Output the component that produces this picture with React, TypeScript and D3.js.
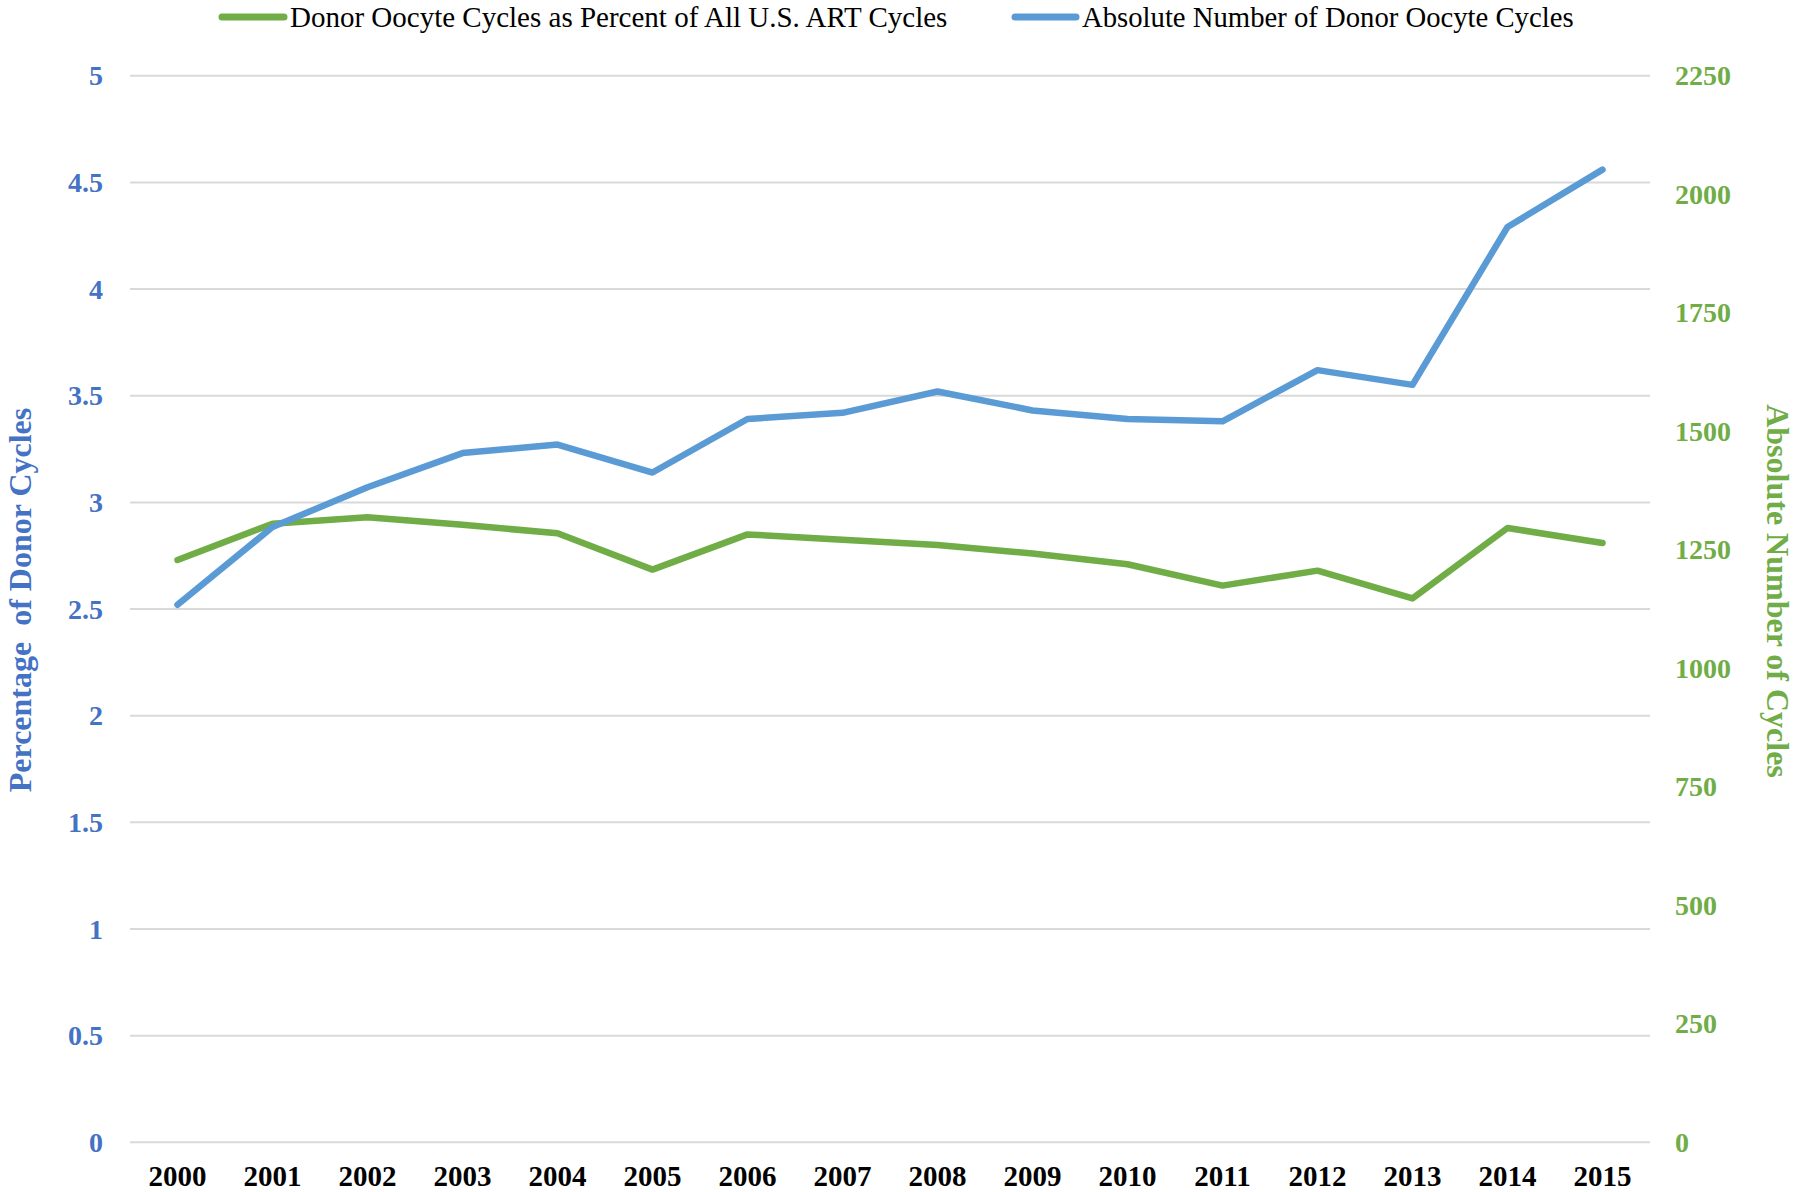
import React from "react";
import * as d3 from "d3";

const years = ["2000","2001","2002","2003","2004","2005","2006","2007","2008","2009","2010","2011","2012","2013","2014","2015"];
// Donor oocyte cycles as percent of all U.S. ART cycles (left axis)
const percentValues = [2.73, 2.90, 2.93, 2.895, 2.855, 2.685, 2.85, 2.825, 2.80, 2.76, 2.71, 2.61, 2.68, 2.55, 2.88, 2.81];
// Absolute number of donor oocyte cycles (right axis)
const absoluteValues = [1134, 1298, 1382, 1454, 1472, 1413, 1526, 1539, 1584, 1544, 1526, 1521, 1629, 1598, 1931, 2052];
const leftTicks = [0, 0.5, 1, 1.5, 2, 2.5, 3, 3.5, 4, 4.5, 5];
const rightTicks = [0, 250, 500, 750, 1000, 1250, 1500, 1750, 2000, 2250];
const legendLabels = ["Donor Oocyte Cycles as Percent of All U.S. ART Cycles", "Absolute Number of Donor Oocyte Cycles"];

const W = 1800, H = 1192;
const plot = { left: 130, right: 1650, top: 75.8, bottom: 1142.3 };
const BLUE_TEXT = "#4472C4";
const GREEN = "#70AD47";
const BLUE_LINE = "#5B9BD5";
const FONT = "'Liberation Serif', 'Times New Roman', serif";

export default function App() {
  const x = d3.scaleBand<string>().domain(years).range([plot.left, plot.right]).padding(0);
  const cx = (y: string) => (x(y) as number) + x.bandwidth() / 2;
  const yL = d3.scaleLinear().domain([0, 5]).range([plot.bottom, plot.top]);
  const yR = d3.scaleLinear().domain([0, 2250]).range([plot.bottom, plot.top]);

  const greenLine = d3.line<number>().x((_, i) => cx(years[i])).y((d) => yL(d))(percentValues) || "";
  const blueLine = d3.line<number>().x((_, i) => cx(years[i])).y((d) => yR(d))(absoluteValues) || "";

  return (
    <svg width={W} height={H} style={{ position: "absolute", left: 0, top: 0, background: "#fff" }} fontFamily={FONT}>
      <rect x={0} y={0} width={W} height={H} fill="#fff" />
      {leftTicks.map((t) => (
        <line key={"g" + t} x1={plot.left} x2={plot.right} y1={yL(t)} y2={yL(t)} stroke="#d9d9d9" strokeWidth={2} />
      ))}
      {leftTicks.map((t) => (
        <text key={"l" + t} x={103} y={yL(t)} dy="0.34em" textAnchor="end" fontSize={28} fontWeight="bold" fill={BLUE_TEXT}>
          {String(t)}
        </text>
      ))}
      {rightTicks.map((t) => (
        <text key={"r" + t} x={1675} y={yR(t)} dy="0.34em" textAnchor="start" fontSize={28} fontWeight="bold" fill={GREEN}>
          {String(t)}
        </text>
      ))}
      {years.map((yr) => (
        <text key={yr} x={cx(yr)} y={1186} textAnchor="middle" fontSize={29} fontWeight="bold" fill="#000">
          {yr}
        </text>
      ))}
      <path d={greenLine} fill="none" stroke={GREEN} strokeWidth={6.5} strokeLinejoin="round" strokeLinecap="round" />
      <path d={blueLine} fill="none" stroke={BLUE_LINE} strokeWidth={6.5} strokeLinejoin="round" strokeLinecap="round" />
      <text transform="translate(31,600) rotate(-90)" textAnchor="middle" fontSize={32} fontWeight="bold" fill={BLUE_TEXT} style={{ whiteSpace: "pre" }}>
        {"Percentage  of Donor Cycles"}
      </text>
      <text transform="translate(1767,591) rotate(90)" textAnchor="middle" fontSize={32} fontWeight="bold" fill={GREEN}>
        Absolute Number of Cycles
      </text>
      <line x1={222} x2={284} y1={17} y2={17} stroke={GREEN} strokeWidth={7} strokeLinecap="round" />
      <text x={290} y={17} dy="0.34em" fontSize={29} fill="#000">{legendLabels[0]}</text>
      <line x1={1015} x2={1076} y1={17} y2={17} stroke={BLUE_LINE} strokeWidth={7} strokeLinecap="round" />
      <text x={1082} y={17} dy="0.34em" fontSize={28.7} fill="#000">{legendLabels[1]}</text>
    </svg>
  );
}
